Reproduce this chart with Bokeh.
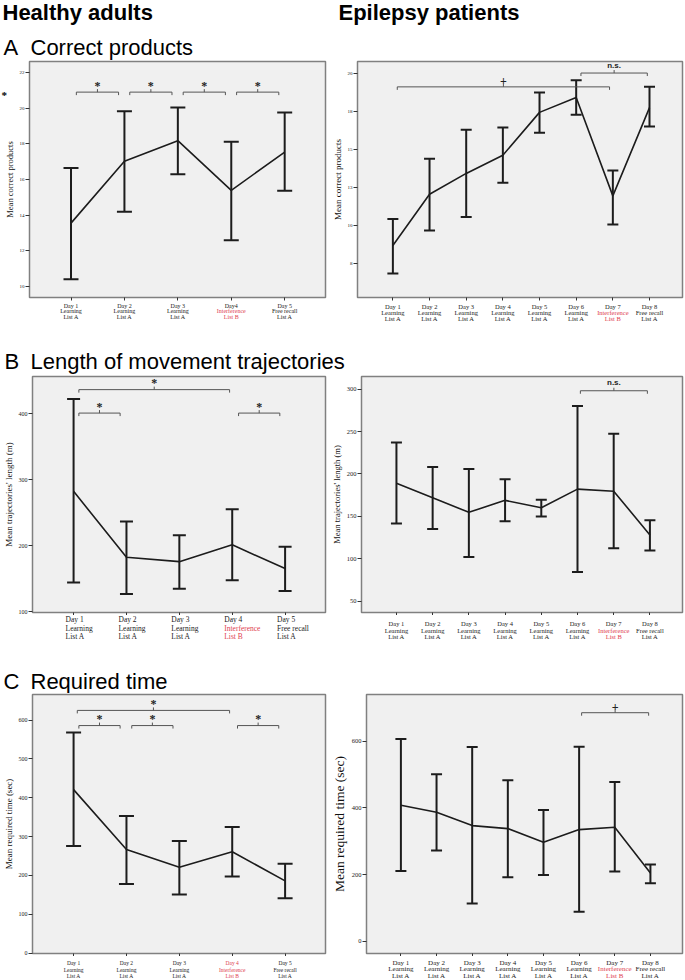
from bokeh.plotting import figure
from bokeh.layouts import column, row
from bokeh.models import Range1d, FixedTicker, Whisker, TeeHead, ColumnDataSource
from bokeh.embed import file_html
from bokeh.resources import INLINE
from bokeh.core.properties import value

# ---------------- data ----------------
healthy_day = ["Day 1", "Day 2", "Day 3", "Day 4", "Day 5"]
healthy_day_a = ["Day 1", "Day 2", "Day 3", "Day4", "Day 5"]
healthy_task = ["Learning", "Learning", "Learning", "Interference", "Free recall"]
healthy_list = ["List A", "List A", "List A", "List B", "List A"]

patient_day = ["Day 1", "Day 2", "Day 3", "Day 4", "Day 5", "Day 6", "Day 7", "Day 8"]
patient_task = ["Learning", "Learning", "Learning", "Learning", "Learning", "Learning",
                "Interference", "Free recall"]
patient_list = ["List A", "List A", "List A", "List A", "List A", "List A", "List B", "List A"]

# A  Correct products
healthy_correct_mean = [13.55, 17.02, 18.18, 15.39, 17.54]
healthy_correct_low = [10.39, 14.19, 16.29, 12.58, 15.37]
healthy_correct_high = [16.64, 19.83, 20.05, 18.12, 19.77]
patient_correct_mean = [8.69, 12.06, 13.43, 14.63, 17.45, 18.43, 11.95, 17.76]
patient_correct_low = [6.84, 9.67, 10.56, 12.82, 16.11, 17.30, 10.06, 16.52]
patient_correct_high = [10.43, 14.39, 16.30, 16.45, 18.76, 19.56, 13.63, 19.13]

# B  Length of movement trajectories
healthy_length_mean = [282.5, 182.6, 176.0, 201.5, 165.5]
healthy_length_low = [144.5, 127.0, 135.0, 148.0, 131.5]
healthy_length_high = [422.5, 237.0, 216.0, 255.5, 198.5]
patient_length_mean = [189.1, 171.9, 154.8, 168.9, 160.2, 182.1, 179.7, 128.2]
patient_length_low = [141.5, 135.2, 102.1, 144.3, 150.0, 84.5, 112.6, 109.8]
patient_length_high = [237.1, 208.2, 205.9, 193.8, 169.6, 280.1, 247.3, 145.4]

# C  Required time
healthy_time_mean = [421, 267, 221, 261, 186]
healthy_time_low = [276, 178, 151, 197, 141]
healthy_time_high = [568, 353, 289, 325, 230]
patient_time_mean = [408, 387, 347, 338, 297, 335, 342, 205]
patient_time_low = [211, 272, 113, 192, 199, 88, 209, 174]
patient_time_high = [607, 501, 583, 483, 394, 584, 478, 230]

# y-axis ticks and their labels
healthy_correct_ticks = [10, 12, 14, 16, 18, 20, 22]
patient_correct_ticks = [7.5, 10, 12.5, 15, 17.5, 20]
patient_correct_tick_labels = ["8", "10", "13", "15", "18", "20"]
healthy_length_ticks = [100, 200, 300, 400]
patient_length_ticks = [50, 100, 150, 200, 250, 300]
healthy_time_ticks = [0, 100, 200, 300, 400, 500, 600]
patient_time_ticks = [0, 200, 400, 600]

# significance brackets: (from, to, level, label)
healthy_correct_sig = [(1.1, 1.89, 20.91, "*"), (2.1, 2.89, 20.91, "*"),
                       (3.1, 3.89, 20.91, "*"), (4.1, 4.89, 20.91, "*")]
patient_correct_sig = [(1.12, 6.91, 19.13, "+"), (6.13, 7.94, 20.04, "n.s.")]
healthy_length_sig = [(1.1, 3.95, 436.5, "*"), (1.1, 1.88, 401, "*"), (4.12, 4.9, 401, "*")]
patient_length_sig = [(6.08, 7.93, 298, "n.s.")]
healthy_time_sig = [(1.07, 3.95, 625, "*"), (1.1, 1.88, 586, "*"),
                    (2.1, 2.88, 586, "*"), (4.1, 4.88, 586, "*")]
patient_time_sig = [(6.07, 7.95, 686, "+")]

SERIF = "Liberation Serif"
SANS = "Liberation Sans"
RED = "#e0414f"
INK = "#1c1c1c"
TOTAL_W = 685
MID = 0.3465  # distance from alphabetic baseline to text middle, in em (Arial metrics)

STAR_W = 8
LW, RW = 328, 357
LBL, LBR, RBL, RBR = 29, 3, 29, 3
LX = (0.223, 5.764)
RX = (0.035, 8.9)


def make_panel(w, bl, br, top, frame_h, bot, xr, yr, yticks, ylabel, ylabel_size, ytick_size,
               mean, low, high, cap, sig, ytick_labels=None):
    n = len(mean)
    xs = list(range(1, n + 1))
    p = figure(width=w, height=top + frame_h + bot, x_range=Range1d(*xr), y_range=Range1d(*yr),
               output_backend="svg", toolbar_location=None,
               min_border_left=bl, min_border_right=br, min_border_top=top, min_border_bottom=bot)
    p.background_fill_color = "#f0f0f0"
    p.border_fill_color = "white"
    p.outline_line_color = "#808080"
    p.outline_line_width = 1.5
    p.grid.visible = False
    ppu = frame_h / (yr[1] - yr[0])

    ya = p.yaxis[0]
    ya.ticker = FixedTicker(ticks=yticks)
    if ytick_labels is not None:
        ya.major_label_overrides = {t: s for t, s in zip(yticks, ytick_labels)}
    ya.axis_line_color = None
    ya.major_tick_in = 0
    ya.major_tick_out = 4
    ya.major_tick_line_color = "#333333"
    ya.minor_tick_line_color = None
    ya.major_label_standoff = 1
    ya.major_label_text_font = SERIF
    ya.major_label_text_font_size = ytick_size
    ya.major_label_text_color = "#222222"
    ya.axis_label = ylabel
    ya.axis_label_text_font = SERIF
    ya.axis_label_text_font_style = "normal"
    ya.axis_label_text_font_size = ylabel_size
    ya.axis_label_text_color = "#111111"
    ya.axis_label_standoff = 2

    xa = p.xaxis[0]
    xa.ticker = FixedTicker(ticks=xs)
    xa.major_label_overrides = {x: "" for x in xs}
    xa.major_label_text_font_size = "0px"
    xa.major_label_standoff = 0
    xa.axis_line_color = None
    xa.major_tick_in = 0
    xa.major_tick_out = 3
    xa.major_tick_line_color = "#333333"
    xa.minor_tick_line_color = None

    src = ColumnDataSource(dict(x=xs, m=mean, lo=low, hi=high))
    p.line("x", "m", source=src, line_color=INK, line_width=1.6)
    p.add_layout(Whisker(source=src, base="x", lower="lo", upper="hi", dimension="height",
                         line_color=INK, line_width=2,
                         lower_head=TeeHead(size=cap, line_color=INK, line_width=2),
                         upper_head=TeeHead(size=cap, line_color=INK, line_width=2)))

    t = 3.0 / ppu
    for a, b, lev, lab in sig:
        mid = (a + b) / 2
        p.multi_line(xs=[[a, a, b, b]], ys=[[lev - t, lev, lev, lev - t]],
                     line_color="#555555", line_width=1)
        p.segment(x0=[mid], y0=[lev], x1=[mid], y1=[lev + t], line_color="#555555", line_width=1)
        if lab == "*":
            p.text(x=[mid], y=[lev + t - 3.5 / ppu], text=[lab], text_font=value(SERIF),
                   text_font_size="12px", text_font_style="bold", text_align="center",
                   text_baseline="bottom", text_color="#222222")
        elif lab == "+":
            p.text(x=[mid], y=[lev + t - 1.5 / ppu], text=[lab], text_font=value(SERIF),
                   text_font_size="12px", text_font_style="bold", text_align="center",
                   text_baseline="bottom", text_color="#222222")
        else:
            p.text(x=[mid], y=[lev + t + 0.5 / ppu], text=[lab], text_font=value(SANS),
                   text_font_size="8px", text_font_style="bold", text_align="center",
                   text_baseline="bottom", text_color="#222222")
    return p


def label_strip(chart, w, bl, br, h, days, tasks, lists, red_idx, red_all, font, ys,
                align="center", x_off=0):
    """Category labels under a chart, sharing its x scale."""
    p = figure(width=w, height=h, x_range=chart.x_range, y_range=Range1d(h, 0),
               output_backend="svg", toolbar_location=None,
               min_border_left=bl, min_border_right=br, min_border_top=0, min_border_bottom=0,
               x_axis_location=None, y_axis_location=None)
    p.grid.visible = False
    p.outline_line_color = None
    p.background_fill_color = "white"
    p.border_fill_color = "white"
    X, Y, T, C = [], [], [], []
    for i in range(len(days)):
        for k, txt in enumerate((days[i], tasks[i], lists[i])):
            X.append(i + 1)
            Y.append(ys[k])
            T.append(txt)
            red = (i == red_idx) and (red_all or k > 0)
            C.append(RED if red else "#1a1a1a")
    p.text(x=X, y=Y, text=T, text_color=C, text_font=value(SERIF), text_font_size=font,
           text_align=align, text_baseline="middle", x_offset=x_off)
    return p


def text_box(w, h, items):
    """A plain box holding free-standing texts (titles, stray marks)."""
    p = figure(width=w, height=h, x_range=Range1d(0, w), y_range=Range1d(h, 0),
               output_backend="svg", toolbar_location=None, min_border=0,
               x_axis_location=None, y_axis_location=None)
    p.grid.visible = False
    p.outline_line_color = None
    for x, base, txt, size, style, font in items:
        p.text(x=[x], y=[base - MID * size], text=[txt], text_font=value(font),
               text_font_size=f"{size}px", text_font_style=style, text_baseline="middle",
               text_color="black")
    return p


# ---------- row A ----------
h1 = text_box(TOTAL_W, 60, [(2, 19.5, "Healthy adults", 22, "bold", SANS),
                            (338, 19.5, "Epilepsy patients", 22, "bold", SANS),
                            (3, 54.5, "A", 22, "normal", SANS),
                            (30, 54.5, "Correct products", 22, "normal", SANS)])
star_box = text_box(STAR_W, 241, [(1, 38, "*", 11, "bold", SERIF)])
star_box.margin = (0, -STAR_W, 0, 0)
a_left = make_panel(LW, LBL, LBR, 1, 236, 4, LX, (9.37, 22.63), healthy_correct_ticks,
                    "Mean correct products", "8.5px", "5px",
                    healthy_correct_mean, healthy_correct_low, healthy_correct_high, 15,
                    healthy_correct_sig)
a_left.border_fill_alpha = 0
a_right = make_panel(RW, RBL, RBR, 1, 236, 4, RX, (5.26, 20.8), patient_correct_ticks,
                     "Mean correct products", "9px", "5px",
                     patient_correct_mean, patient_correct_low, patient_correct_high, 11,
                     patient_correct_sig, patient_correct_tick_labels)
a_left_lab = label_strip(a_left, LW, LBL, LBR, 20, healthy_day_a, healthy_task, healthy_list,
                         3, False, "6px", [4, 9.8, 15.7])
a_right_lab = label_strip(a_right, RW, RBL, RBR, 20, patient_day, patient_task, patient_list,
                          6, False, "6.5px", [4.5, 10.5, 16.5])

# ---------- row B ----------
h2 = text_box(TOTAL_W, 53, [(4, 48, "B", 22, "normal", SANS),
                            (30, 48, "Length of movement trajectories", 22, "normal", SANS)])
b_left = make_panel(LW, LBL, LBR, 2, 236, 3, LX, (99, 456.4), healthy_length_ticks,
                    "Mean trajectories' length (m)", "9px", "6px",
                    healthy_length_mean, healthy_length_low, healthy_length_high, 13,
                    healthy_length_sig)
b_right = make_panel(RW, RBL, RBR, 2, 236, 3, RX, (36.8, 314.8), patient_length_ticks,
                     "Mean trajectories' length (m)", "8.5px", "6.5px",
                     patient_length_mean, patient_length_low, patient_length_high, 11,
                     patient_length_sig)
b_left_lab = label_strip(b_left, LW, LBL, LBR, 29, healthy_day, healthy_task, healthy_list,
                         3, False, "7.5px", [4.2, 12.6, 21], align="left", x_off=-8)
b_right_lab = label_strip(b_right, RW, RBL, RBR, 29, patient_day, patient_task, patient_list,
                          6, False, "6.5px", [8.3, 15, 21.3])

# ---------- row C ----------
h3 = text_box(TOTAL_W, 49, [(3, 45, "C", 22, "normal", SANS),
                            (30, 45, "Required time", 22, "normal", SANS)])
c_left = make_panel(LW, LBL, LBR, 1, 259, 3, LX, (-1, 666), healthy_time_ticks,
                    "Mean required time (sec)", "9px", "6px",
                    healthy_time_mean, healthy_time_low, healthy_time_high, 15,
                    healthy_time_sig)
c_right = make_panel(RW, RBL, RBR, 1, 259, 3, RX, (-37, 740.7), patient_time_ticks,
                     "Mean required time (sec)", "13.5px", "6.5px",
                     patient_time_mean, patient_time_low, patient_time_high, 11,
                     patient_time_sig)
c_left_lab = label_strip(c_left, LW, LBL, LBR, 23, healthy_day, healthy_task, healthy_list,
                         3, True, "5.5px", [6.5, 13, 19])
c_right_lab = label_strip(c_right, RW, RBL, RBR, 23, patient_day, patient_task, patient_list,
                          6, False, "7px", [6, 12.8, 19.4])

layout = column(
    h1, row(star_box, column(a_left, a_left_lab), column(a_right, a_right_lab)),
    h2, row(column(b_left, b_left_lab), column(b_right, b_right_lab)),
    h3, row(column(c_left, c_left_lab), column(c_right, c_right_lab)),
)
open("out.html", "w").write(file_html(layout, INLINE))
